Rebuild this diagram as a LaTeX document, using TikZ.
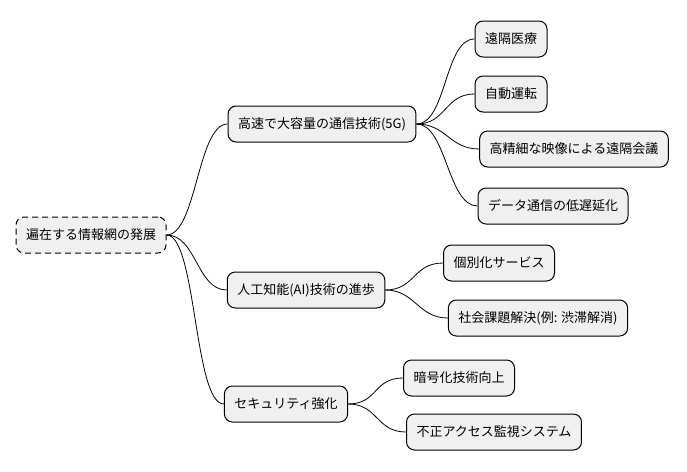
\documentclass[tikz,border=0pt]{standalone}
\usepackage{fontspec}
\setmainfont{Noto Sans CJK JP}
\usetikzlibrary{calc}
\begin{document}
\begin{tikzpicture}[x=1pt,y=-1pt,
  box/.style={draw=black,line width=1pt,fill=black!6,rounded corners=8pt,minimum height=36pt,inner xsep=10pt,font=\fontsize{13}{15}\selectfont},
  link/.style={draw=black,line width=0.8pt}]
\useasboundingbox (0,0) rectangle (687,471);
\node[box,dashed,dash pattern=on 6pt off 4pt] (r) at (91,235) {遍在する情報網の発展};
\node[box] (a) at (322,124) {高速で大容量の通信技術(5G)};
\node[box] (b) at (306,290) {人工知能(AI)技術の進歩};
\node[box] (c) at (286,404) {セキュリティ強化};
\node[box] (a1) at (511,39) {遠隔医療};
\node[box] (a2) at (511,94) {自動運転};
\node[box] (a3) at (574,149) {高精細な映像による遠隔会議};
\node[box] (a4) at (553,206) {データ通信の低遅延化};
\node[box] (b1) at (499,263) {個別化サービス};
\node[box] (b2) at (538,318) {社会課題解決(例: 渋滞解消)};
\node[box] (c1) at (459,378) {暗号化技術向上};
\node[box] (c2) at (494,432) {不正アクセス監視システム};
\foreach \p/\c in {r/a,r/b,r/c,a/a1,a/a2,a/a3,a/a4,b/b1,b/b2,c/c1,c/c2}
  \draw[link] (\p.east) .. controls ($(\p.east)+(30,0)$) and ($(\c.west)+(-30,0)$) .. (\c.west);
\end{tikzpicture}
\end{document}
